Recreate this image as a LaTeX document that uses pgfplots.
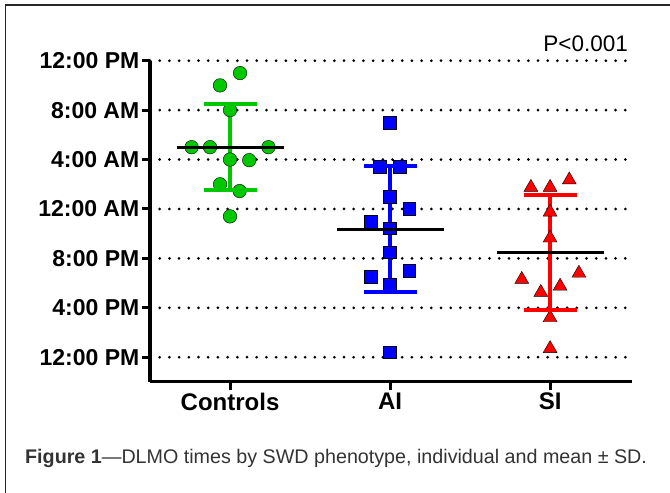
\documentclass[border=0pt]{standalone}
\usepackage{fontspec}
\setmainfont{Liberation Sans}
\usepackage{pgfplots}
\pgfplotsset{compat=1.18}
\definecolor{cgreen}{RGB}{0,200,0}
\definecolor{cblue}{RGB}{0,0,255}
\definecolor{cred}{RGB}{255,0,0}
\definecolor{capgray}{RGB}{51,51,51}
\begin{document}
\begin{tikzpicture}
\begin{axis}[
  at={(150bp,-381.7bp)}, anchor=south west,
  scale only axis, width=481.7bp, height=321bp,
  xmin=-0.5, xmax=2.51, ymin=-1.98, ymax=24,
  axis x line*=bottom, axis y line*=left,
  axis line style={line width=3bp, black},
  xtick={0,1,2}, xticklabels={Controls,AI,SI},
  ytick={0,4,8,12,16,20,24},
  yticklabels={12:00 PM,4:00 PM,8:00 PM,12:00 AM,4:00 AM,8:00 AM,12:00 PM},
  tick align=outside, major tick length=8bp,
  tick style={line width=3bp, black},
  ymajorgrids,
  grid style={black, line width=3bp, line cap=round, dash pattern=on 0pt off 9.7bp},
  yticklabel style={font=\bfseries\fontsize{23bp}{27bp}\selectfont, inner sep=2.5bp},
  xticklabel style={font=\bfseries\fontsize{24bp}{28bp}\selectfont},
  clip=false,
]
% individual points
\addplot[only marks, mark=*, mark size=6.8bp, mark options={draw=none, fill=cgreen}] coordinates {
 (0.0625,23.0) (-0.0625,22.0) (0,20.0) (-0.24,17.0) (-0.125,17.0) (0.24,17.0)
 (0,16.0) (0.12,15.95) (-0.0625,14.0) (0.06,13.45) (0,11.4)};
\addplot[only marks, mark=square*, mark size=6.4bp, mark options={draw=none, fill=cblue}] coordinates {
 (1,19.0) (0.9375,15.45) (1.0625,15.45) (1,13.0) (1.12,12.0) (0.88,11.0)
 (1,10.45) (1,8.5) (1.12,7.0) (0.88,6.5) (1,5.9) (1,0.4)};
\addplot[only marks, mark=triangle*, mark size=8bp, mark options={draw=none, fill=cred}] coordinates {
 (1.88,13.75) (2,13.75) (2.12,14.35) (2,11.75) (2,9.65) (2.18,6.8)
 (1.823,6.3) (2.0625,5.75) (1.942,5.25) (2,3.2) (2,0.7)};
% SD bars
\addplot[cgreen, line width=4bp] coordinates {(0,13.5) (0,20.5)};
\addplot[only marks, mark=-, mark size=26.5bp, mark options={line width=4bp, cgreen}] coordinates {(0,13.5) (0,20.5)};
\addplot[cblue, line width=4bp] coordinates {(1,5.25) (1,15.45)};
\addplot[only marks, mark=-, mark size=26.5bp, mark options={line width=4bp, cblue}] coordinates {(1,5.25) (1,15.45)};
\addplot[cred, line width=4bp] coordinates {(2,3.85) (2,13.15)};
\addplot[only marks, mark=-, mark size=26.5bp, mark options={line width=4bp, cred}] coordinates {(2,3.85) (2,13.15)};
% means
\addplot[only marks, mark=-, mark size=53.5bp, mark options={line width=3bp, black}] coordinates {(0,17.0) (1,10.36) (2,8.47)};
\node[anchor=base east, font=\fontsize{22.5bp}{26bp}\selectfont, inner sep=0pt] at (rel axis cs:0.9925,1) [yshift=9.0bp] {P<0.001};
\end{axis}
\node[anchor=base west, inner sep=0pt, text=capgray, font=\fontsize{19.7bp}{24bp}\selectfont] at (25bp,-463.3bp) {\textbf{Figure 1}—DLMO times by SWD phenotype, individual and mean ± SD.};
\draw[line width=1.6bp, black!85] (5.3bp,-700bp) -- (5.3bp,-4.7bp) -- (800bp,-4.7bp);
\pgfresetboundingbox
\path[use as bounding box] (0,0) rectangle (670bp,-493bp);
\end{tikzpicture}
\end{document}
